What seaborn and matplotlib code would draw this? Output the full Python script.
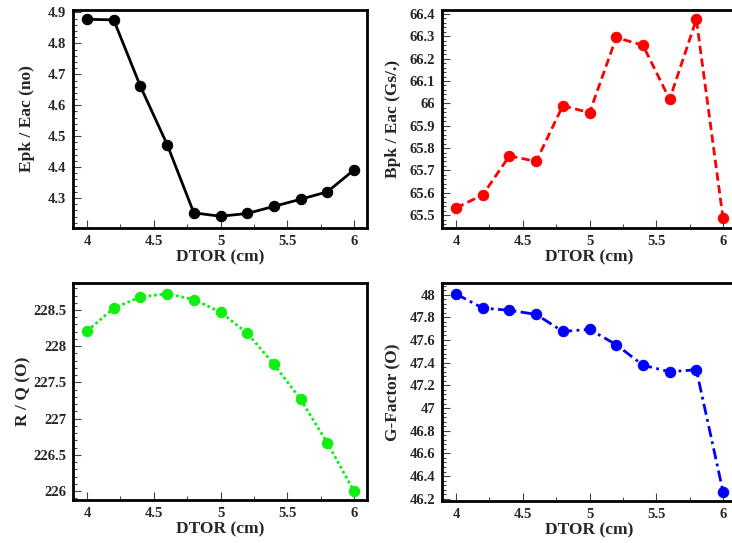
import numpy as np
import pandas as pd
import matplotlib
matplotlib.use("Agg")
import matplotlib.pyplot as plt
from matplotlib.ticker import AutoMinorLocator, FuncFormatter, MultipleLocator
import seaborn as sns

dtor = [4.0, 4.2, 4.4, 4.6, 4.8, 5.0, 5.2, 5.4, 5.6, 5.8, 6.0]
epk_eac = [4.878, 4.876, 4.661, 4.473, 4.252, 4.241, 4.250, 4.273, 4.296, 4.320, 4.391]
bpk_eac = [65.532, 65.590, 65.765, 65.740, 65.990, 65.958, 66.295, 66.260, 66.018, 66.376, 65.485]
r_over_q = [228.21, 228.525, 228.68, 228.725, 228.645, 228.47, 228.18, 227.75, 227.265, 226.665, 225.995]
g_factor = [48.006, 47.882, 47.862, 47.826, 47.676, 47.694, 47.559, 47.378, 47.320, 47.338, 46.262]

x_label = "DTOR (cm)"
y_labels = ["Epk / Eac (no)", "Bpk / Eac (Gs/.)", "R / Q (O)", "G-Factor (O)"]

sns.set_theme(style="ticks")
plt.rcParams["font.family"] = ["Liberation Serif", "DejaVu Serif"]
plt.rcParams["font.weight"] = "bold"

df = pd.DataFrame({"DTOR": dtor, "epk": epk_eac, "bpk": bpk_eac, "rq": r_over_q, "g": g_factor})

fig = plt.figure(figsize=(7.32, 5.43), dpi=100)
W, H = 732, 543

def make_ax(left_px, top_px, right_px, bottom_px):
    return fig.add_axes([left_px / W, 1 - bottom_px / H, (right_px - left_px) / W, (bottom_px - top_px) / H])

axes = [
    make_ax(73, 10, 367, 228),
    make_ax(442, 10, 736, 228),
    make_ax(73, 283, 367, 500),
    make_ax(442, 283, 736, 501),
]

specs = [
    ("epk", "black", "-", (4.203, 4.908), 0.1),
    ("bpk", "#ff0000", (0, (3, 1.6)), (65.442, 66.418), 0.1),
    ("rq", "#11ee11", (0, (1, 1)), (225.876, 228.873), 0.5),
    ("g", "#0000ff", (0, (4, 1.6, 1, 1.6)), (46.18, 48.103), 0.2),
]

fmt = FuncFormatter(lambda v, p: "%g" % round(v, 4))
TICK_FS = 10.5

for ax, (col, color, ls, ylim, ymaj), ylab in zip(axes, specs, y_labels):
    sns.lineplot(data=df, x="DTOR", y=col, ax=ax, color=color, linestyle=ls,
                 linewidth=2, marker="o", markersize=7.5, markeredgecolor=color,
                 markerfacecolor=color)
    ax.set_xlim(3.895, 6.097)
    ax.set_ylim(*ylim)
    ax.xaxis.set_major_locator(MultipleLocator(0.5))
    ax.xaxis.set_minor_locator(AutoMinorLocator(2))
    ax.yaxis.set_major_locator(MultipleLocator(ymaj))
    ax.yaxis.set_minor_locator(AutoMinorLocator(5))
    ax.xaxis.set_major_formatter(fmt)
    ax.yaxis.set_major_formatter(fmt)
    ax.tick_params(which="both", direction="in", top=False, right=False,
                   color="#444444", width=0.8, labelsize=TICK_FS)
    ax.tick_params(axis="x", pad=5)
    ax.tick_params(axis="y", pad=5)
    ax.tick_params(which="major", length=6)
    ax.tick_params(which="minor", length=3)
    for sp in ax.spines.values():
        sp.set_linewidth(2)
        sp.set_color("black")
        sp.set_visible(True)
    ax.set_xlabel(x_label, fontsize=12.5, fontweight="bold")
    ax.set_ylabel(ylab, fontsize=12.5, fontweight="bold")
    ax.xaxis.set_label_coords(0.5, -0.098)
    ax.set_facecolor("white")

axes[0].yaxis.set_label_coords(-0.128, 0.5)
axes[2].yaxis.set_label_coords(-0.142, 0.5)
axes[1].yaxis.set_label_coords(-0.138, 0.5)
axes[3].yaxis.set_label_coords(-0.138, 0.5)

fig.canvas.draw()
for ax in axes:
    for lab in ax.get_xticklabels() + ax.get_yticklabels():
        lab.set_fontweight("bold")
        lab.set_fontsize(TICK_FS)

fig.savefig("out.png", dpi=100, facecolor="white")
